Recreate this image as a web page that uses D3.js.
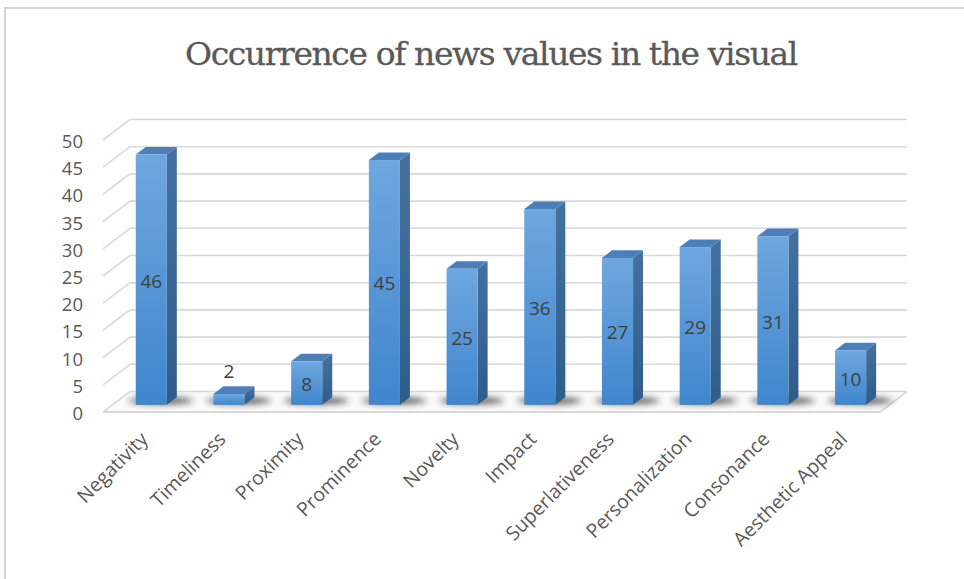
<!DOCTYPE html>
<html>
<head>
<meta charset="utf-8">
<script src="https://cdn.jsdelivr.net/npm/d3@7"></script>
<style>
  html, body { margin: 0; padding: 0; background: #fff; }
  svg { display: block; }
</style>
</head>
<body>
<svg id="chart" width="964" height="579"></svg>
<script>
const categories = ["Negativity", "Timeliness", "Proximity", "Prominence", "Novelty",
  "Impact", "Superlativeness", "Personalization", "Consonance", "Aesthetic Appeal"];
const values = [46, 2, 8, 45, 25, 36, 27, 29, 31, 10];
const yTicks = [0, 5, 10, 15, 20, 25, 30, 35, 40, 45, 50];
const titleText = "Occurrence of news values in the visual";

const svg = d3.select("#chart");

// depth projection (d: 0 = front, 1 = back)
const DX = 27, DY = -20.5;
const x = d3.scaleBand().domain(categories).range([103, 880]).paddingInner(0.6).paddingOuter(0.3);
const y = d3.scaleLinear().domain([0, 50]).range([412, 140]);
const dFront = 0.35, dBack = 0.72;
const P = (sx, v, d) => [sx + d * DX, y(v) + d * DY];

const defs = svg.append("defs");
const gFront = defs.append("linearGradient").attr("id", "gFront").attr("x1", 0).attr("y1", 0).attr("x2", 0).attr("y2", 1);
gFront.append("stop").attr("offset", "0%").attr("stop-color", "#6fa7df");
gFront.append("stop").attr("offset", "100%").attr("stop-color", "#3f86cd");
const gSide = defs.append("linearGradient").attr("id", "gSide").attr("x1", 0).attr("y1", 0).attr("x2", 0).attr("y2", 1);
gSide.append("stop").attr("offset", "0%").attr("stop-color", "#44719f");
gSide.append("stop").attr("offset", "100%").attr("stop-color", "#2f5d8b");
defs.append("filter").attr("id", "blur").attr("x", "-50%").attr("y", "-200%").attr("width", "200%").attr("height", "500%")
  .append("feGaussianBlur").attr("stdDeviation", 3);

// outer border
svg.append("rect").attr("x", 5).attr("y", 8).attr("width", 1000).attr("height", 1000)
  .attr("fill", "none").attr("stroke", "#d4d4d4").attr("stroke-width", 2);

// title
svg.append("text").attr("transform", "translate(491,65)")
  .attr("text-anchor", "middle")
  .attr("font-family", "'DejaVu Serif', 'Liberation Serif', serif").attr("font-size", 31)
  .attr("letter-spacing", "-1.3px")
  .attr("fill", "#595959").attr("stroke", "#595959").attr("stroke-width", 0.3)
  .attr("textLength", 612).attr("lengthAdjust", "spacingAndGlyphs")
  .text(titleText);

const line = d3.line();
const x0 = x.range()[0], x1 = x.range()[1];

// floor
const floor = [P(x0, 0, 0), P(x1, 0, 0), P(x1, 0, 1), P(x0, 0, 1)];
svg.append("path").attr("d", line(floor) + "Z").attr("fill", "#fbfbfb").attr("stroke", "none");

// gridlines: left wall diagonals + back wall horizontals
const grid = svg.append("g").attr("stroke", "#d9d9d9").attr("stroke-width", 1.6).attr("fill", "none");
yTicks.forEach(v => {
  grid.append("path").attr("d", line([P(x0, v, 0), P(x0, v, 1), P(x1, v, 1)]));
});
grid.append("path").attr("d", line([P(x0, 0, 0), P(x1, 0, 0), P(x1, 0, 1)])).attr("stroke-width", 2);

// shadows
const sh = svg.append("g").attr("filter", "url(#blur)");
categories.forEach((c, i) => {
  const bx = x(c) + (dFront + dBack) / 2 * DX;
  sh.append("ellipse")
    .attr("cx", bx + x.bandwidth() * 0.65).attr("cy", y(0) + 0.55 * DY)
    .attr("rx", x.bandwidth() * 1.05).attr("ry", 3.5)
    .attr("fill", "#2a2a2a").attr("opacity", 0.75);
});

// bars
const bars = svg.append("g");
categories.forEach((c, i) => {
  const v = values[i];
  const L = x(c), R = x(c) + x.bandwidth();
  const g = bars.append("g");
  g.append("path").attr("d", line([P(R, 0, dFront), P(R, 0, dBack), P(R, v, dBack), P(R, v, dFront)]) + "Z")
    .attr("fill", "url(#gSide)");
  g.append("path").attr("d", line([P(L, v, dFront), P(R, v, dFront), P(R, v, dBack), P(L, v, dBack)]) + "Z")
    .attr("fill", "#4d7fb6");
  const [fx, fy] = P(L, v, dFront);
  const [, fy0] = P(L, 0, dFront);
  g.append("rect").attr("x", fx).attr("y", fy).attr("width", x.bandwidth()).attr("height", fy0 - fy)
    .attr("fill", "url(#gFront)");
  const inside = (fy0 - fy) > 26;
  g.append("text")
    .attr("x", fx + x.bandwidth() / 2)
    .attr("y", inside ? (fy + fy0) / 2 + 1 : fy - 23)
    .attr("text-anchor", "middle").attr("dominant-baseline", "central")
    .attr("font-family", "'Open Sans', 'Liberation Sans', sans-serif").attr("font-size", 19)
    .attr("fill", "#404040").text(v);
});

// y axis labels
svg.append("g").selectAll("text").data(yTicks).join("text")
  .attr("x", 83).attr("y", d => y(d) + 0.5)
  .attr("text-anchor", "end").attr("dominant-baseline", "central")
  .attr("font-family", "'Open Sans', 'Liberation Sans', sans-serif").attr("font-size", 18.5)
  .attr("fill", "#595959").text(d => d);

// x axis labels
svg.append("g").selectAll("text").data(categories).join("text")
  .attr("transform", d => `translate(${x(d) + x.bandwidth() / 2 + 2},${435}) rotate(-45)`)
  .attr("text-anchor", "end").attr("dominant-baseline", "central")
  .attr("font-family", "'Open Sans', 'Liberation Sans', sans-serif").attr("font-size", 19.5)
  .attr("fill", "#595959").text(d => d);
</script>
</body>
</html>
